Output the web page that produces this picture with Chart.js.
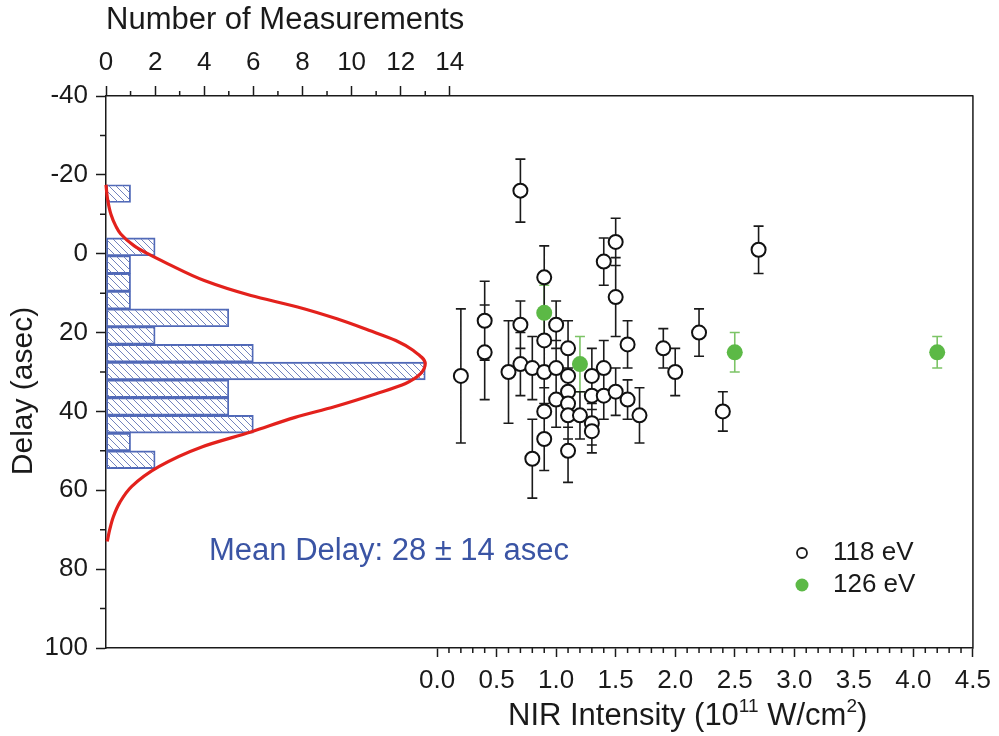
<!DOCTYPE html>
<html>
<head>
<meta charset="utf-8">
<title>Delay vs NIR intensity</title>
<script src="https://cdn.jsdelivr.net/npm/chart.js@4.4.1/dist/chart.umd.min.js"></script>
<style>
  html, body { margin: 0; padding: 0; background: #fff; }
</style>
</head>
<body>
<canvas id="myChart" width="999" height="736"></canvas>
<script>
// ---- values ----

// histogram of measured delays, bins 4.5 asec wide (top axis)
const binCenters = [-15.25, -10.75, -6.25, -1.75, 2.75, 7.25, 11.75, 16.25, 20.75, 25.25, 29.75, 34.25, 38.75, 43.25, 47.75, 52.25];
const binCounts = [1, 0, 0, 2, 1, 1, 1, 5, 2, 6, 13, 5, 5, 6, 1, 2];

// red gaussian fit
const fitDelay = [-17.5, -14, -10, -7, -5, -2, 0, 2.5, 6.8, 10.6, 13.5, 16.5, 19.4, 22, 24.5, 27.8, 30.5, 32.9, 35.5, 38.8, 41.5, 45.2, 49, 54, 59, 63, 66.7, 70, 73];
const fitCount = [0, 0.06, 0.2, 0.4, 0.6, 1.15, 1.7, 2.5, 4.0, 5.9, 7.8, 9.4, 10.7, 11.8, 12.5, 13.0, 12.8, 12.2, 11.0, 9.3, 7.7, 5.9, 3.9, 2.15, 1.05, 0.57, 0.3, 0.15, 0.05];

// 118 eV measurements
const nir118 = [0.7, 0.9, 1.5, 1.4, 1.5, 0.4, 0.7, 1.0, 2.2, 1.6, 0.2, 0.4, 0.6, 0.7, 0.8, 0.9, 1.0, 0.9, 1.1, 1.1, 1.3, 1.4, 1.9, 2.0, 1.0, 1.1, 1.1, 1.3, 1.4, 1.5, 1.6, 1.7, 0.9, 1.1, 1.2, 1.3, 1.3, 0.9, 0.8, 1.1, 2.7, 2.4];
const delay118 = [-16, 6, -3, 2, 11, 17, 18, 18, 20, 23, 31, 25, 30, 28, 29, 30, 29, 22, 24, 31, 31, 29, 24, 30, 37, 35, 38, 36, 36, 35, 37, 41, 40, 41, 41, 43, 45, 47, 52, 50, -1, 40];
const err118 = [8, 8, 6, 6, 10, 10, 6, 6, 6, 6, 17, 12, 13, 8, 8, 8, 7, 8, 7, 6, 7, 7, 5, 6, 7, 6, 6, 6, 6, 6, 5, 7, 6, 6, 6, 5.5, 5.5, 8, 10, 8, 6, 5];

// 126 eV measurements
const nir126 = [0.9, 1.2, 2.5, 4.2];
const delay126 = [15, 28, 25, 25];
const err126 = [7, 7, 5, 4];

const legendLabels = ['118 eV', '126 eV'];
const delayMinorTicks = [-30, -10, 10, 30, 50, 70, 90];
const countMinorTicks = [1, 3, 5, 7, 9, 11, 13];
const nirMinorTicks = [];
for (let k = 1; k < 45; k++) {
  if (k % 5 !== 0) nirMinorTicks.push(k / 10);
}

const fontFamily = '"Liberation Sans", Arial, Helvetica, sans-serif';
const ink = '#1a1a1a';
const green = '#5cb946';

// diagonal hatch for the histogram bars
function makeHatch() {
  const c = document.createElement('canvas');
  c.width = 7; c.height = 7;
  const g = c.getContext('2d');
  g.strokeStyle = '#7383bd';
  g.lineWidth = 1;
  g.beginPath();
  g.moveTo(-1, -1); g.lineTo(8, 8);
  g.moveTo(-1, 6); g.lineTo(1, 8);
  g.moveTo(6, -1); g.lineTo(8, 1);
  g.stroke();
  return g.createPattern(c, 'repeat');
}

// vertical error bars with caps, drawn under the markers
const errorBars = {
  id: 'errorBars',
  beforeDatasetsDraw(chart) {
    const ctx = chart.ctx;
    const xs = chart.scales.x, ys = chart.scales.y;
    chart.data.datasets.forEach(ds => {
      if (!ds.errors) return;
      ctx.save();
      ctx.strokeStyle = ds.errorColor;
      ctx.lineWidth = 1.6;
      ctx.beginPath();
      ds.data.forEach((p, i) => {
        const px = xs.getPixelForValue(p.x);
        const top = ys.getPixelForValue(p.y - ds.errors[i]);
        const bot = ys.getPixelForValue(p.y + ds.errors[i]);
        ctx.moveTo(px, top); ctx.lineTo(px, bot);
        ctx.moveTo(px - 5, top); ctx.lineTo(px + 5, top);
        ctx.moveTo(px - 5, bot); ctx.lineTo(px + 5, bot);
      });
      ctx.stroke();
      ctx.restore();
    });
  }
};

// minor ticks, right frame line, titles, legend and the mean delay note
const extras = {
  id: 'extras',
  afterDraw(chart) {
    const {ctx, chartArea: a, scales} = chart;
    ctx.save();
    ctx.strokeStyle = ink;
    ctx.lineWidth = 1.5;
    ctx.beginPath();
    delayMinorTicks.forEach(v => {
      const py = scales.y.getPixelForValue(v);
      ctx.moveTo(a.left - 6, py); ctx.lineTo(a.left, py);
    });
    countMinorTicks.forEach(v => {
      const px = scales.xTop.getPixelForValue(v);
      ctx.moveTo(px, a.top - 5); ctx.lineTo(px, a.top);
    });
    nirMinorTicks.forEach(v => {
      const px = scales.x.getPixelForValue(v);
      ctx.moveTo(px, a.bottom); ctx.lineTo(px, a.bottom + 5);
    });
    ctx.moveTo(a.right, a.top - 0.75); ctx.lineTo(a.right, a.bottom + 0.75);
    ctx.stroke();

    // left axis title
    ctx.fillStyle = ink;
    ctx.font = '30px ' + fontFamily;
    ctx.textAlign = 'center';
    ctx.textBaseline = 'middle';
    ctx.save();
    ctx.translate(24, 391);
    ctx.rotate(-Math.PI / 2);
    ctx.fillText('Delay (asec)', 0, 0);
    ctx.restore();

    // bottom axis title with superscripts
    const parts = [['NIR Intensity (10', false], ['11', true], [' W/cm', false], ['2', true], [')', false]];
    let tx = 508;
    ctx.textAlign = 'left';
    ctx.textBaseline = 'alphabetic';
    parts.forEach(([t, sup]) => {
      ctx.font = (sup ? '19px ' : '31px ') + fontFamily;
      ctx.fillText(t, tx, sup ? 712 : 725);
      tx += ctx.measureText(t).width;
    });

    // mean delay note
    ctx.font = '31px ' + fontFamily;
    ctx.fillStyle = '#3a54a4';
    ctx.textBaseline = 'middle';
    ctx.fillText('Mean Delay: 28 \u00b1 14 asec', 209, 551);

    // legend
    const rows = [553, 585];
    ctx.font = '26px ' + fontFamily;
    legendLabels.forEach((label, i) => {
      ctx.beginPath();
      if (i === 0) {
        ctx.arc(802, rows[i], 5, 0, Math.PI * 2);
        ctx.fillStyle = '#fff';
        ctx.fill();
        ctx.lineWidth = 1.8;
        ctx.strokeStyle = ink;
        ctx.stroke();
      } else {
        ctx.arc(802, rows[i], 6.5, 0, Math.PI * 2);
        ctx.fillStyle = green;
        ctx.fill();
      }
      ctx.fillStyle = ink;
      ctx.fillText(label, 833, rows[i]);
    });
    ctx.restore();
  }
};

const points118 = nir118.map((v, i) => ({x: v, y: delay118[i]}));
const points126 = nir126.map((v, i) => ({x: v, y: delay126[i]}));
const histBars = binCenters.map((d, i) => ({x: binCounts[i], y: d}));
const fitLine = fitDelay.map((d, i) => ({x: fitCount[i], y: d}));

const tickFont = {family: fontFamily, size: 26};
const hidden = 'rgba(0,0,0,0)';

const myChart = new Chart(document.getElementById('myChart'), {
  type: 'scatter',
  data: {
    datasets: [
      {
        label: legendLabels[1],
        data: points126,
        order: 0,
        pointRadius: 8,
        pointBackgroundColor: green,
        pointBorderWidth: 0,
        errors: err126,
        errorColor: '#7cc466'
      },
      {
        label: legendLabels[0],
        data: points118,
        order: 1,
        pointRadius: 7,
        pointBackgroundColor: '#fff',
        pointBorderColor: '#111',
        pointBorderWidth: 2,
        errors: err118,
        errorColor: '#1a1a1a'
      },
      {
        type: 'line',
        label: 'fit',
        data: fitLine,
        order: 2,
        indexAxis: 'y',
        xAxisID: 'xTop',
        yAxisID: 'y',
        borderColor: '#e3211c',
        borderWidth: 3.2,
        pointRadius: 0,
        cubicInterpolationMode: 'monotone',
        fill: false,
        clip: false
      },
      {
        type: 'bar',
        label: 'histogram',
        data: histBars,
        order: 3,
        indexAxis: 'y',
        xAxisID: 'xTop',
        yAxisID: 'y',
        grouped: false,
        barPercentage: 1,
        categoryPercentage: 1,
        backgroundColor: makeHatch(),
        borderColor: '#5069b8',
        borderWidth: 1.2,
        borderSkipped: false
      }
    ]
  },
  options: {
    responsive: false,
    animation: false,
    events: [],
    layout: {padding: {left: 0, right: 22, top: 0, bottom: 0}},
    plugins: {legend: {display: false}, tooltip: {enabled: false}},
    scales: {
      x: {
        type: 'linear',
        position: 'bottom',
        min: -2.78,
        max: 4.5,
        offset: false,
        afterFit: s => { s.height = 88; },
        ticks: {
          stepSize: 0.5,
          autoSkip: false,
          maxRotation: 0,
          padding: 8,
          color: ink,
          font: tickFont,
          callback: v => v < -1e-9 ? '' : v.toFixed(1)
        },
        grid: {
          drawOnChartArea: false,
          offset: false,
          tickLength: 9,
          tickWidth: 1.5,
          tickColor: c => (c.tick && c.tick.value < -1e-9) ? hidden : ink
        },
        border: {color: ink, width: 1.5}
      },
      xTop: {
        type: 'linear',
        position: 'top',
        min: 0,
        max: 35.3,
        offset: false,
        afterFit: s => { s.height = 96; },
        ticks: {
          stepSize: 2,
          autoSkip: false,
          maxRotation: 0,
          padding: 8,
          color: ink,
          font: tickFont,
          callback: v => v > 14 ? '' : v
        },
        grid: {
          drawOnChartArea: false,
          offset: false,
          tickLength: 10,
          tickWidth: 1.5,
          tickColor: c => (c.tick && c.tick.value > 14) ? hidden : ink
        },
        border: {color: ink, width: 1.5},
        title: {
          display: true,
          text: 'Number of Measurements',
          align: 'start',
          color: ink,
          font: {family: fontFamily, size: 31},
          padding: {top: 2, bottom: 0}
        }
      },
      y: {
        type: 'linear',
        position: 'left',
        reverse: true,
        min: -40,
        max: 100,
        offset: false,
        afterFit: s => { s.width = 106; },
        ticks: {stepSize: 20, padding: 8, color: ink, font: tickFont},
        grid: {
          drawOnChartArea: false,
          offset: false,
          tickLength: 10,
          tickWidth: 1.5,
          tickColor: ink
        },
        border: {color: ink, width: 1.5}
      }
    }
  },
  plugins: [errorBars, extras]
});
</script>
</body>
</html>
